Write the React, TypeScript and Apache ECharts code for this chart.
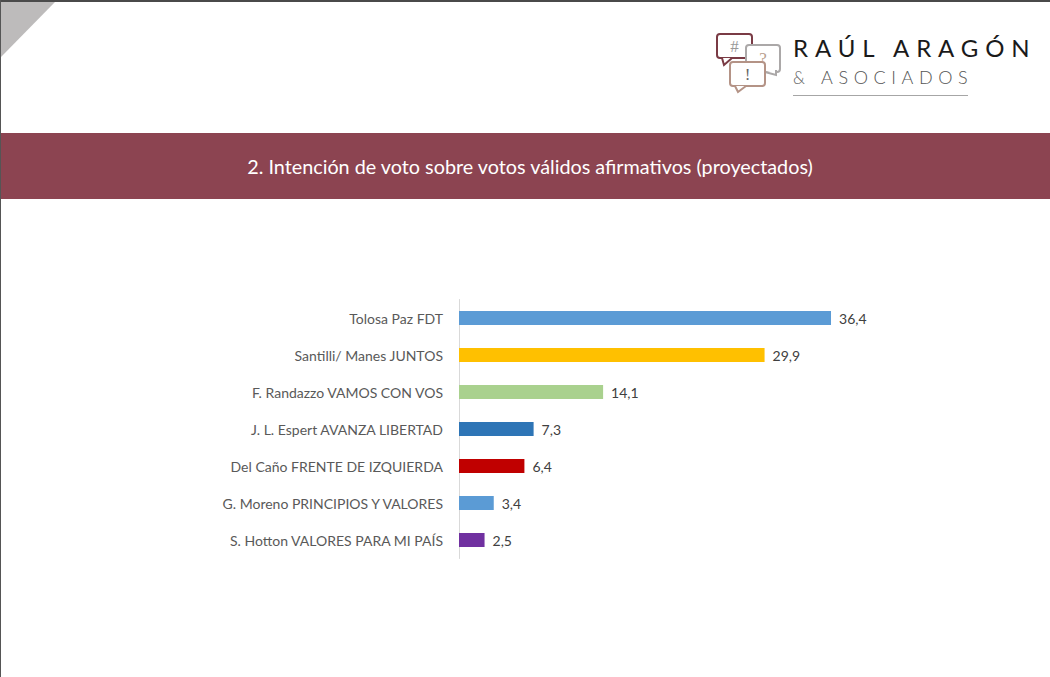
import React, { useEffect, useRef } from "react";
import * as echarts from "echarts";

const categories = [
  "Tolosa Paz FDT",
  "Santilli/ Manes JUNTOS",
  "F. Randazzo VAMOS CON VOS",
  "J. L. Espert AVANZA LIBERTAD",
  "Del Caño FRENTE DE IZQUIERDA",
  "G. Moreno PRINCIPIOS Y VALORES",
  "S. Hotton VALORES PARA MI PAÍS",
];
const values = [36.4, 29.9, 14.1, 7.3, 6.4, 3.4, 2.5];
const barColors = ["#5B9BD5", "#FFC000", "#A9D18E", "#2E75B6", "#C00000", "#5B9BD5", "#7030A0"];
const titleText = "2. Intención de voto sobre votos válidos afirmativos (proyectados)";
const logoTop = "RAÚL ARAGÓN";
const logoBottom = "ASOCIADOS";
const FONT = "Lato, 'Open Sans', sans-serif";

function bubble(x: number, y: number, w: number, h: number, color: string, tail: number[][], mark: string, markColor: string, z: number) {
  return [
    { type: "rect", z, shape: { x, y, width: w, height: h, r: 3 }, style: { fill: "#fff", stroke: color, lineWidth: 2 } },
    { type: "polyline", z, shape: { points: tail }, style: { fill: "#fff", stroke: color, lineWidth: 2 } },
    { type: "text", z, x: x + w / 2, y: y + h / 2, style: { text: mark, fill: markColor, font: "17px 'Liberation Serif', serif", align: "center", verticalAlign: "middle" } },
  ];
}

export default function App() {
  const ref = useRef<HTMLDivElement>(null);
  useEffect(() => {
    const chart = echarts.init(ref.current!, null, { renderer: "svg" });
    chart.setOption({
      animation: false,
      backgroundColor: "#ffffff",
      grid: { left: 459, top: 299.5, width: 408.8, height: 259, containLabel: false },
      xAxis: { type: "value", min: 0, max: 40, show: false },
      yAxis: {
        type: "category",
        inverse: true,
        data: categories,
        axisTick: { show: false },
        axisLine: { show: true, lineStyle: { color: "#D9D9D9", width: 1 } },
        axisLabel: { color: "#595959", fontSize: 14, fontFamily: FONT, margin: 16 },
      },
      series: [
        {
          type: "bar",
          data: values.map((v, i) => ({ value: v, itemStyle: { color: barColors[i] } })),
          barWidth: 14,
          label: {
            show: true,
            position: "right",
            distance: 8,
            color: "#404040",
            fontSize: 14,
            fontFamily: FONT,
            formatter: (p: any) => String(p.value).replace(".", ","),
          },
        },
      ],
      graphic: [
        { type: "rect", z: 10, shape: { x: 0, y: 133, width: 1050, height: 66 }, style: { fill: "#8C4451" } },
        { type: "text", z: 11, x: 530, y: 166, style: { text: titleText, fill: "#ffffff", font: "19.8px " + FONT, align: "center", verticalAlign: "middle" } },
        { type: "rect", z: 10, shape: { x: 0, y: 0, width: 1050, height: 2 }, style: { fill: "#4A4A4A" } },
        { type: "rect", z: 10, shape: { x: 0, y: 0, width: 1, height: 677 }, style: { fill: "#555555" } },
        { type: "polygon", z: 9, shape: { points: [[1, 2], [55, 2], [1, 57]] }, style: { fill: "#BDBBBB" } },
        ...bubble(717, 34, 35, 24, "#7A3B45", [[722, 58], [724, 65], [732, 58]], "#", "#999999", 10),
        ...bubble(746, 45, 34, 27, "#ABA8A8", [[765, 72], [776, 75], [776, 70]], "?", "#B9A08E", 11),
        ...bubble(730, 62, 35, 24, "#B49386", [[735, 86], [738, 92], [746, 86]], "!", "#666666", 12),
        { type: "text", z: 11, x: 793, y: 47, style: { text: logoTop, fill: "#1A1A1A", font: "400 24px " + FONT, verticalAlign: "middle" } },
        { type: "text", z: 11, x: 793, y: 77, style: { text: "&", fill: "#666666", font: "300 17px " + FONT, verticalAlign: "middle" } },
        { type: "text", z: 11, x: 821, y: 77, style: { text: logoBottom, fill: "#555555", font: "300 18px " + FONT, verticalAlign: "middle" } },
        { type: "line", z: 11, shape: { x1: 793, y1: 95.5, x2: 968, y2: 95.5 }, style: { stroke: "#A6A6A6", lineWidth: 1 } },
      ],
    });
    // zrender text has no letter spacing: widen the wordmark in the SVG it produced
    const spacing: Record<string, string> = { [logoTop]: "6.9px", [logoBottom]: "5.6px" };
    ref.current!.querySelectorAll("text").forEach((t) => {
      const s = spacing[t.textContent || ""];
      if (s) t.setAttribute("letter-spacing", s);
    });
    return () => chart.dispose();
  }, []);
  return <div ref={ref} style={{ position: "absolute", left: 0, top: 0, width: 1050, height: 677 }} />;
}
